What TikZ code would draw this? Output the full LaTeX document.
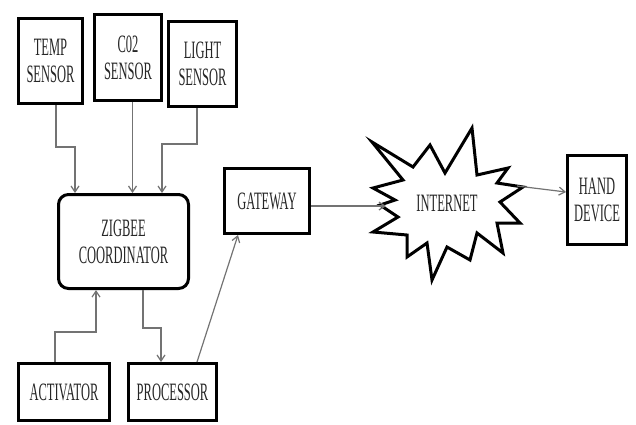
\documentclass[tikz,border=0pt]{standalone}
\usepackage{fontspec}
\setmainfont{Liberation Serif}[FakeStretch=0.5]
\usetikzlibrary{arrows.meta}
\begin{document}
\begin{tikzpicture}[x=1pt,y=-1pt,
  box/.style={draw=black, line width=3pt, inner sep=0pt, align=center,
    font=\fontsize{25}{27}\selectfont, text=black!85},
  arr/.style={draw=black!55, line width=1.2pt, -{Straight Barb[length=6pt,width=8pt]}},
  lbl/.style={font=\fontsize{25}{27}\selectfont, text=black!85, align=center}]
\useasboundingbox (0,0) rectangle (636,424);
% sensors
\node[box, minimum width=64pt, minimum height=85pt] (temp) at (50.5,61) {TEMP\\SENSOR};
\node[box, minimum width=67pt, minimum height=86pt] (co2) at (128,57.5) {C02\\SENSOR};
\node[box, minimum width=68pt, minimum height=85pt] (light) at (202.5,64) {LIGHT\\SENSOR};
% coordinator
\node[box, rounded corners=10pt, minimum width=130pt, minimum height=94pt] (zig) at (123.5,241.5) {ZIGBEE\\COORDINATOR};
% bottom
\node[box, minimum width=91pt, minimum height=57pt] (act) at (64,392) {ACTIVATOR};
\node[box, minimum width=88pt, minimum height=57pt] (proc) at (172.5,392) {PROCESSOR};
% gateway, hand device
\node[box, minimum width=85pt, minimum height=65pt] (gw) at (267,201) {GATEWAY};
\node[box, minimum width=59pt, minimum height=89pt] (hand) at (597,200) {HAND\\DEVICE};
% internet star
\draw[line width=3pt, line join=miter, miter limit=20, fill=white]
  (372,142) -- (413,167) -- (430,145) -- (445,173) -- (472,128) -- (477,175)
  -- (508,168) -- (497,183) -- (523,187) -- (500,202) -- (520,223) -- (497,223)
  -- (503,253) -- (477,233) -- (470,260) -- (447,247) -- (432,280) -- (427,243)
  -- (407,257) -- (407,235) -- (373,232) -- (398,217) -- (380,205) -- (395,200)
  -- (373,188) -- (403,180) -- cycle;
\node[lbl] (inet) at (447,203) {INTERNET};
\coordinate (inL) at (386,206);
\coordinate (inR) at (517,186);
% connectors
\draw[arr] ([xshift=5.5pt]temp.south) -- ++(0,42) -| ([xshift=-48.5pt]zig.north);
\draw[arr] ([xshift=4.5pt]co2.south) -- ([xshift=4.5pt]co2.south |- zig.north);
\draw[arr] ([xshift=-5.5pt]light.south) -- ++(0,36) -| ([xshift=38.5pt]zig.north);
\draw[arr] ([xshift=-9pt]act.north) -- ++(0,-30) -| ([xshift=-27.5pt]zig.south);
\draw[arr] ([xshift=19.5pt]zig.south) -- ++(0,38) -| ([xshift=-11.5pt]proc.north);
\draw[arr] ([xshift=24.5pt]proc.north) -- ([xshift=-29pt]gw.south);
\draw[arr] ([yshift=-5pt]gw.east) -- (inL);
\draw[arr] (inR) -- ([yshift=8pt]hand.west);
\end{tikzpicture}
\end{document}
